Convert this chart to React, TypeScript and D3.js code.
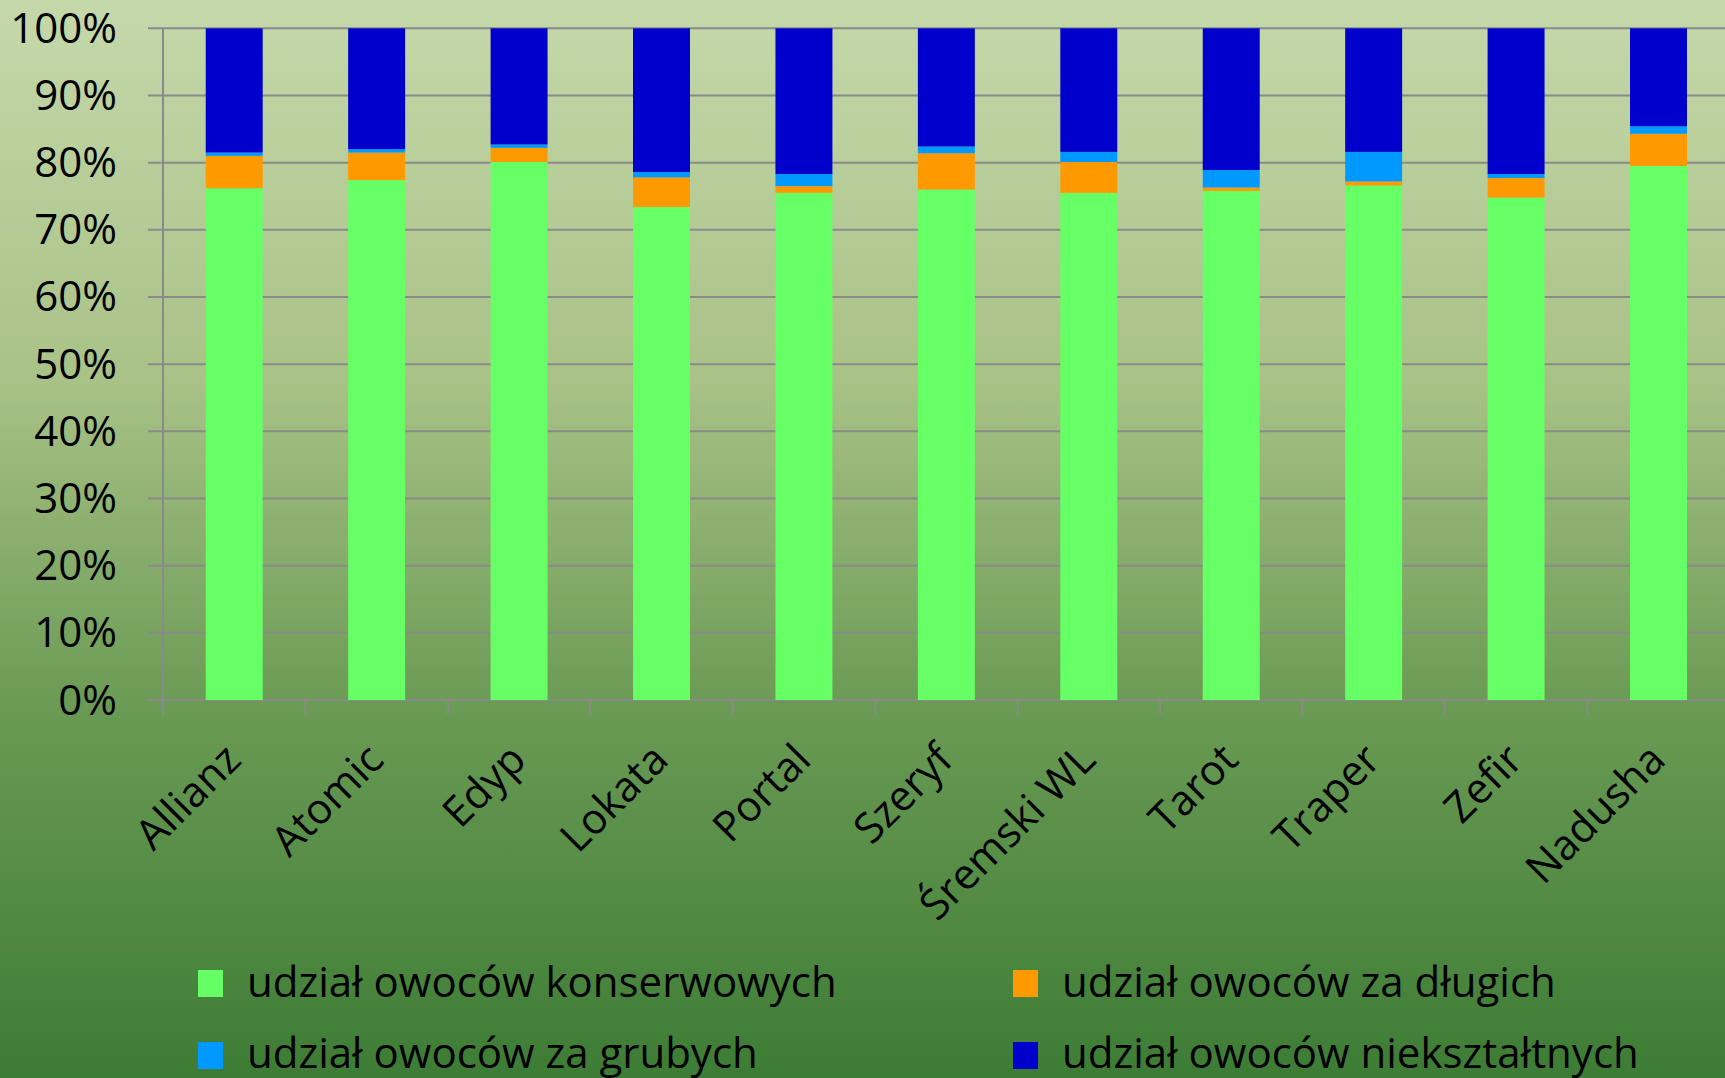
import React from "react";
import * as d3 from "d3";

const categories = ["Allianz", "Atomic", "Edyp", "Lokata", "Portal", "Szeryf", "Śremski WL", "Tarot", "Traper", "Zefir", "Nadusha"];
const konserwowe = [76.2, 77.4, 80.1, 73.4, 75.5, 76.0, 75.5, 75.8, 76.6, 74.8, 79.5];
const zaDlugie = [4.8, 4.1, 2.1, 4.4, 1.0, 5.4, 4.6, 0.5, 0.6, 2.9, 4.8];
const zaGrube = [0.5, 0.5, 0.5, 0.8, 1.8, 1.0, 1.5, 2.6, 4.4, 0.6, 1.1];
const nieksztaltne = [18.5, 18.0, 17.3, 21.4, 21.7, 17.6, 18.4, 21.1, 18.4, 21.7, 14.6];
const seriesNames = ["udział owoców konserwowych", "udział owoców za długich", "udział owoców za grubych", "udział owoców niekształtnych"];
const seriesColors = ["#66ff66", "#ff9900", "#0099ff", "#0000cc"];
const yTicks = [0, 0.1, 0.2, 0.3, 0.4, 0.5, 0.6, 0.7, 0.8, 0.9, 1];

const W = 1725;
const H = 1078;
const FONT = "'Open Sans', 'Noto Sans', sans-serif";

export default function App() {
  const keys = ["k0", "k1", "k2", "k3"];
  const rows = categories.map((c, i) => ({
    cat: c,
    k0: konserwowe[i],
    k1: zaDlugie[i],
    k2: zaGrube[i],
    k3: nieksztaltne[i],
  }));
  const stack = d3.stack<any>().keys(keys).offset(d3.stackOffsetExpand);
  const stacked = stack(rows);

  const left = 163;
  const step = 142.43;
  const x = d3
    .scaleBand<string>()
    .domain(categories)
    .range([left, left + step * categories.length])
    .paddingInner(0.6)
    .paddingOuter(0.3);
  const y = d3.scaleLinear().domain([0, 1]).range([700, 28.3]);
  const gridColor = "#8a8a8a";

  const tickXs = d3.range(categories.length + 1).map((i) => left + i * step);

  const legendItems = [
    { x: 198, y: 970, tx: 247, ty: 997 },
    { x: 1013, y: 970, tx: 1062, ty: 997 },
    { x: 198, y: 1042, tx: 247, ty: 1068 },
    { x: 1013, y: 1042, tx: 1062, ty: 1068 },
  ];

  return (
    <svg
      width={W}
      height={H}
      viewBox={`0 0 ${W} ${H}`}
      style={{ position: "absolute", left: 0, top: 0, display: "block" }}
      fontFamily={FONT}
    >
      <defs>
        <linearGradient id="bg" x1="0" y1="0" x2="0" y2="1">
          <stop offset="0%" stopColor="#c5d8aa" />
          <stop offset="35%" stopColor="#a9c287" />
          <stop offset="65%" stopColor="#6b9b55" />
          <stop offset="100%" stopColor="#3d7c35" />
        </linearGradient>
      </defs>
      <rect x={0} y={0} width={W} height={H} fill="url(#bg)" />

      {/* gridlines */}
      {yTicks.map((t) => (
        <line key={"g" + t} x1={148} x2={W} y1={y(t)} y2={y(t)} stroke={gridColor} strokeWidth={2} />
      ))}
      {/* y axis */}
      <line x1={left} x2={left} y1={y(1)} y2={y(0) + 14} stroke={gridColor} strokeWidth={2} />
      {/* x ticks */}
      {tickXs.map((tx, i) => (
        <line key={"t" + i} x1={tx} x2={tx} y1={y(0)} y2={y(0) + 14} stroke={gridColor} strokeWidth={2} />
      ))}

      {/* bars */}
      {stacked.map((s, si) => (
        <g key={"s" + si} fill={seriesColors[si]}>
          {s.map((d: any, i: number) => (
            <rect
              key={i}
              x={x(categories[i])}
              width={x.bandwidth()}
              y={y(d[1])}
              height={Math.max(0, y(d[0]) - y(d[1]))}
            />
          ))}
        </g>
      ))}

      {/* y labels */}
      {yTicks.map((t) => (
        <text key={"yl" + t} x={117} y={y(t) + 14.5} textAnchor="end" fontSize={42} fill="#000">
          {d3.format(".0%")(t)}
        </text>
      ))}

      {/* x labels */}
      {categories.map((c) => {
        const cx = (x(c) as number) + x.bandwidth() / 2 + 9;
        const cy = 762;
        return (
          <text
            key={"xl" + c}
            transform={`translate(${cx},${cy}) rotate(-45)`}
            textAnchor="end"
            fontSize={42}
            fill="#000"
          >
            {c}
          </text>
        );
      })}

      {/* legend */}
      {seriesNames.map((n, i) => (
        <g key={"lg" + i}>
          <rect x={legendItems[i].x} y={legendItems[i].y} width={25} height={27} fill={seriesColors[i]} />
          <text x={legendItems[i].tx} y={legendItems[i].ty} fontSize={42} fill="#000">
            {n}
          </text>
        </g>
      ))}
    </svg>
  );
}
